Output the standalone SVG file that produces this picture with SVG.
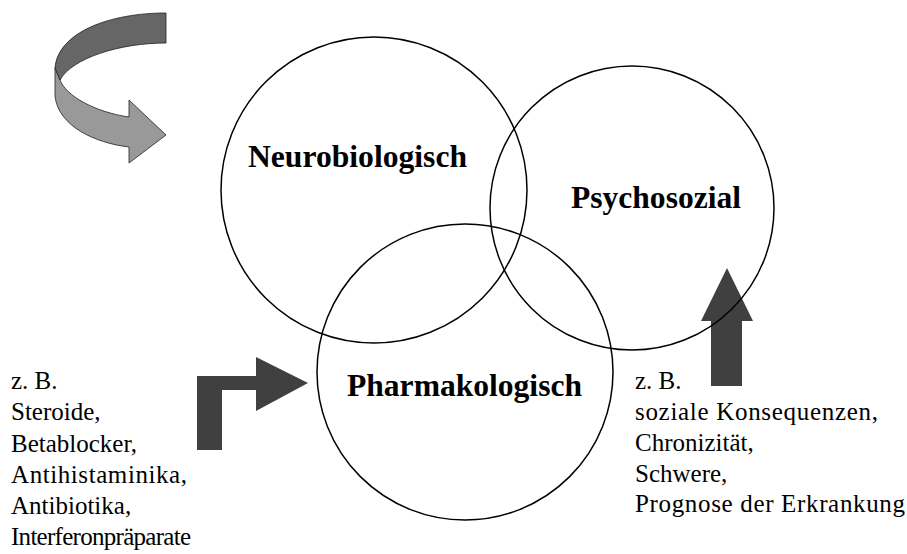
<svg xmlns="http://www.w3.org/2000/svg" width="907" height="554" viewBox="0 0 907 554">
<style>
.c{fill:none;stroke:#000;stroke-width:1.5}
.t{font-family:"Liberation Serif","Times New Roman",serif;font-weight:bold;font-size:31px;fill:#000}
.s{font-family:"Liberation Serif","Times New Roman",serif;font-size:25px;fill:#000}
.a{fill:#404040;stroke:none}
</style>
<rect width="907" height="554" fill="#fff"/>
<g id="connectors">
<g id="curved-arrow" stroke="#222" stroke-width="0.8">
<path d="M55,68 L55,96 C58,126 95,143 129,147 L129,163 L166,135 L129,100 L129,117 C95,112 66,96 60,80 Z" fill="#999"/>
<path d="M166,13 C110,13 58,32 55,68 L60,80 C72,58 120,43 166,43 Z" fill="#666"/>
</g>
<path id="l-arrow" class="a" d="M197,450 L197,376 L256,376 L256,357 L308,383 L256,411 L256,390 L222,390 L222,450 Z"/>
<path id="up-arrow" class="a" fill="#333" d="M711,386 L711,321 L701,321 L727,268 L753,321 L742,321 L742,386 Z"/>
</g>
<g id="neurobiologisch">
<circle class="c" cx="374" cy="190" r="153"/>
<text class="t" x="248" y="167" textLength="219" lengthAdjust="spacingAndGlyphs">Neurobiologisch</text>
</g>
<g id="psychosozial">
<circle class="c" cx="632" cy="208" r="142"/>
<text class="t" x="571" y="208" textLength="170" lengthAdjust="spacingAndGlyphs">Psychosozial</text>
</g>
<g id="pharmakologisch">
<circle class="c" cx="465" cy="372" r="148"/>
<text class="t" x="347" y="396" textLength="235" lengthAdjust="spacingAndGlyphs">Pharmakologisch</text>
</g>
<g id="left-examples">
<text class="s" x="11" y="389">z. B.</text>
<text class="s" x="11" y="420">Steroide,</text>
<text class="s" x="11" y="452">Betablocker,</text>
<text class="s" x="11" y="483" textLength="176" lengthAdjust="spacing">Antihistaminika,</text>
<text class="s" x="11" y="514">Antibiotika,</text>
<text class="s" x="11" y="545" textLength="180" lengthAdjust="spacing">Interferonpräparate</text>
</g>
<g id="right-examples">
<text class="s" x="635" y="389">z. B.</text>
<text class="s" x="635" y="420" textLength="243" lengthAdjust="spacing">soziale Konsequenzen,</text>
<text class="s" x="635" y="451">Chronizität,</text>
<text class="s" x="635" y="482">Schwere,</text>
<text class="s" x="635" y="512" textLength="270" lengthAdjust="spacing">Prognose der Erkrankung</text>
</g>
</svg>
